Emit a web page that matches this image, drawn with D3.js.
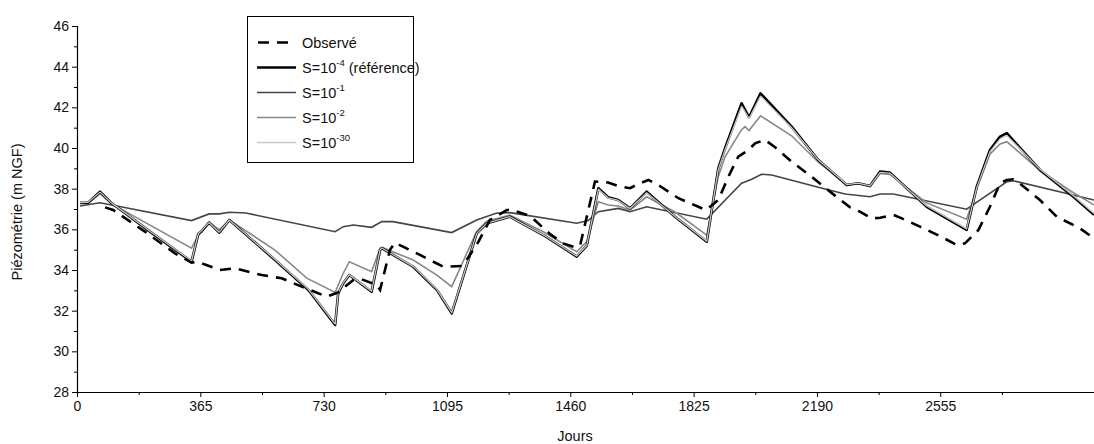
<!DOCTYPE html>
<html><head><meta charset="utf-8">
<script src="https://cdn.jsdelivr.net/npm/d3@7"></script>
<style>
html,body{margin:0;padding:0;background:#fff;}
svg{display:block;font-family:"Liberation Sans",Arial,sans-serif;}
</style></head>
<body><svg id="c" width="1094" height="444"></svg>
<script>
// ---- data ----
const xMajorTicks = [0,365,730,1095,1460,1825,2190,2555];
const xMinorTicks = [182.5,547.5,912.5,1277.5,1642.5,2007.5,2372.5,2737.5];
const yMajorTicks = [28,30,32,34,36,38,40,42,44,46];
const yMinorTicks = [29,31,33,35,37,39,41,43,45];

const observed = [[83,37.08],[107,36.95],[200,35.9],[290,34.82],[339,34.36],[358,34.4],[423,34.0],[468,34.08],[547,33.75],[606,33.59],[665,33.18],[739,32.69],[778,32.93],[793,33.18],[818,33.51],[843,33.54],[887,33.26],[897,33.02],[926,34.98],[941,35.34],[1015,34.74],[1084,34.16],[1139,34.2],[1153,34.49],[1188,35.39],[1222,36.46],[1272,36.95],[1287,36.95],[1341,36.66],[1400,35.77],[1439,35.31],[1474,35.12],[1489,35.2],[1533,38.35],[1572,38.3],[1602,38.13],[1637,38.02],[1661,38.23],[1691,38.43],[1725,38.13],[1780,37.53],[1839,37.11],[1862,36.95],[1898,37.44],[1928,38.59],[1957,39.57],[1987,39.9],[2007,40.23],[2036,40.4],[2066,40.04],[2115,39.33],[2174,38.59],[2253,37.53],[2288,37.08],[2317,36.87],[2352,36.54],[2377,36.57],[2416,36.71],[2441,36.54],[2495,36.13],[2554,35.67],[2604,35.23],[2628,35.31],[2668,35.97],[2702,37.11],[2732,38.27],[2752,38.43],[2771,38.46],[2796,38.18],[2850,37.44],[2900,36.62],[2968,36.05],[3010,35.56]];

const sRef = [[9,37.3],[33,37.31],[68,37.85],[103,37.28],[220,35.84],[339,34.41],[359,35.77],[367,35.88],[391,36.33],[421,35.84],[451,36.46],[586,34.49],[685,33.02],[764,31.3],[773,32.85],[788,33.35],[806,33.75],[872,32.93],[897,34.98],[902,35.07],[995,34.16],[1065,33.02],[1109,31.87],[1183,35.8],[1213,36.3],[1281,36.62],[1380,35.72],[1479,34.66],[1509,35.2],[1543,38.02],[1572,37.58],[1602,37.44],[1637,37.03],[1686,37.85],[1770,36.62],[1864,35.39],[1898,39.0],[1918,39.99],[1967,42.2],[1975,41.95],[1989,41.51],[2023,42.69],[2115,41.05],[2194,39.41],[2278,38.18],[2312,38.27],[2347,38.13],[2377,38.84],[2406,38.79],[2515,37.11],[2633,35.97],[2663,38.1],[2702,39.9],[2732,40.56],[2752,40.73],[2850,38.92],[2949,37.6],[3010,36.71]];

const s1 = [[9,37.15],[68,37.31],[103,37.2],[339,36.43],[391,36.76],[421,36.76],[451,36.84],[500,36.8],[764,35.88],[788,36.13],[818,36.21],[872,36.1],[902,36.38],[935,36.38],[1109,35.84],[1183,36.46],[1240,36.79],[1281,36.82],[1479,36.3],[1513,36.43],[1543,36.87],[1602,37.03],[1637,36.87],[1686,37.11],[1864,36.5],[1928,37.6],[1967,38.27],[1997,38.46],[2026,38.71],[2056,38.67],[2194,38.07],[2273,37.74],[2347,37.6],[2377,37.74],[2416,37.74],[2633,36.99],[2672,37.44],[2752,38.34],[2771,38.39],[3010,37.44]];

const s2 = [[9,37.3],[33,37.3],[68,37.75],[103,37.25],[339,35.07],[359,35.7],[367,35.85],[391,36.37],[421,35.97],[451,36.46],[586,34.98],[680,33.6],[764,32.9],[788,33.84],[806,34.41],[872,33.92],[897,35.07],[902,35.12],[995,34.49],[1065,33.75],[1109,33.18],[1183,35.9],[1213,36.4],[1281,36.7],[1380,35.88],[1479,34.9],[1509,35.4],[1543,37.36],[1572,37.2],[1602,37.15],[1637,36.95],[1686,37.6],[1770,36.85],[1864,35.72],[1898,38.6],[1918,39.57],[1967,40.9],[1977,41.05],[1989,40.86],[2023,41.58],[2115,40.6],[2194,39.3],[2278,38.2],[2312,38.25],[2347,38.1],[2377,38.75],[2406,38.7],[2515,37.3],[2633,36.5],[2663,38.0],[2702,39.7],[2732,40.2],[2752,40.31],[2850,38.9],[2949,37.8],[3010,37.2]];

const s30 = [[9,37.32],[33,37.33],[68,37.83],[103,37.29],[220,35.86],[339,34.44],[359,35.78],[367,35.9],[391,36.34],[421,35.86],[451,36.46],[586,34.52],[685,33.05],[764,31.34],[773,32.87],[788,33.37],[806,33.76],[872,32.96],[897,34.99],[902,35.08],[995,34.18],[1065,33.05],[1109,31.9],[1183,35.8],[1213,36.3],[1281,36.62],[1380,35.73],[1479,34.68],[1509,35.22],[1543,37.97],[1572,37.55],[1602,37.42],[1637,37.02],[1686,37.8],[1770,36.63],[1864,35.42],[1898,38.95],[1918,39.92],[1967,42.05],[1975,41.85],[1989,41.45],[2023,42.55],[2115,41.0],[2194,39.42],[2278,38.2],[2312,38.27],[2347,38.14],[2377,38.8],[2406,38.76],[2515,37.15],[2633,36.02],[2663,38.05],[2702,39.82],[2732,40.45],[2752,40.62],[2850,38.95],[2949,37.65],[3010,36.78]];

// ---- layout ----
const svg = d3.select("#c");
const x = d3.scaleLinear().domain([0,3010]).range([77,1094]);
const y = d3.scaleLinear().domain([28,46]).range([392,26]);
const line = d3.line().x(d=>x(d[0])).y(d=>y(d[1]));

// axes
const gx = svg.append("g").attr("transform","translate(0,392)");
gx.call(d3.axisBottom(x).tickValues(xMajorTicks).tickSize(5).tickPadding(4).tickFormat(d3.format("d")));
const gxm = svg.append("g").attr("transform","translate(0,392)");
gxm.call(d3.axisBottom(x).tickValues(xMinorTicks).tickSize(3).tickFormat(""));
const gy = svg.append("g").attr("transform","translate(77,0)");
gy.call(d3.axisLeft(y).tickValues(yMajorTicks).tickSize(5).tickPadding(3).tickFormat(d3.format("d")));
const gym = svg.append("g").attr("transform","translate(77,0)");
gym.call(d3.axisLeft(y).tickValues(yMinorTicks).tickSize(3).tickFormat(""));
svg.selectAll(".domain").attr("stroke","#000").attr("stroke-width",1.2);
svg.selectAll(".tick line").attr("stroke","#000").attr("stroke-width",1);
svg.selectAll(".tick text").attr("font-size",14).attr("fill","#111").attr("font-family","Liberation Sans, Arial, sans-serif");
gx.select(".domain").attr("d","M77,0.5H1094");
gxm.select(".domain").remove();
gym.select(".domain").remove();

// axis titles
svg.append("text").attr("x",575).attr("y",441).attr("text-anchor","middle")
  .attr("font-size",14.5).attr("fill","#111").text("Jours");
svg.append("text").attr("transform","translate(22,212) rotate(-90)").attr("text-anchor","middle")
  .attr("font-size",14.5).attr("fill","#111").text("Piézométrie (m NGF)");

// series
const plot = svg.append("g");
plot.append("path").datum(s1).attr("d",line).attr("fill","none").attr("stroke","#444").attr("stroke-width",1.6);
plot.append("path").datum(s2).attr("d",line).attr("fill","none").attr("stroke","#888").attr("stroke-width",1.6);
plot.append("path").datum(sRef).attr("d",line).attr("fill","none").attr("stroke","#000").attr("stroke-width",2.6).attr("stroke-linejoin","round");
plot.append("path").datum(s30).attr("d",line).attr("fill","none").attr("stroke","#c8c8c8").attr("stroke-width",1.3).attr("stroke-linejoin","round");
plot.append("path").datum(observed).attr("d",line).attr("fill","none").attr("stroke","#000").attr("stroke-width",2.6).attr("stroke-dasharray","11,8");

// legend
const leg = svg.append("g");
leg.append("rect").attr("x",247.5).attr("y",16.5).attr("width",166).attr("height",146)
  .attr("fill","#fff").attr("stroke","#000").attr("stroke-width",1);
const legItems = [
  {base:"Observé", sup:null, after:"", color:"#000", w:2.6, dash:"11,8"},
  {base:"S=10", sup:"-4", after:" (référence)", color:"#000", w:2.6, dash:null},
  {base:"S=10", sup:"-1", after:"", color:"#444", w:1.6, dash:null},
  {base:"S=10", sup:"-2", after:"", color:"#888", w:1.6, dash:null},
  {base:"S=10", sup:"-30", after:"", color:"#c8c8c8", w:1.6, dash:null}
];
legItems.forEach((it,i)=>{
  const yy = 42.5 + i*25;
  const l = leg.append("line").attr("x1",257).attr("x2",296).attr("y1",yy).attr("y2",yy)
    .attr("stroke",it.color).attr("stroke-width",it.w);
  if(it.dash) l.attr("stroke-dasharray",it.dash).attr("x1",258);
  const t = leg.append("text").attr("x",302).attr("y",yy+5).attr("font-size",14.5).attr("fill","#111");
  t.append("tspan").text(it.base);
  if(it.sup){
    t.append("tspan").attr("font-size",9.5).attr("dy",-7).text(it.sup);
    if(it.after) t.append("tspan").attr("dy",7).attr("font-size",14.5).text(it.after);
  }
});
</script></body></html>
